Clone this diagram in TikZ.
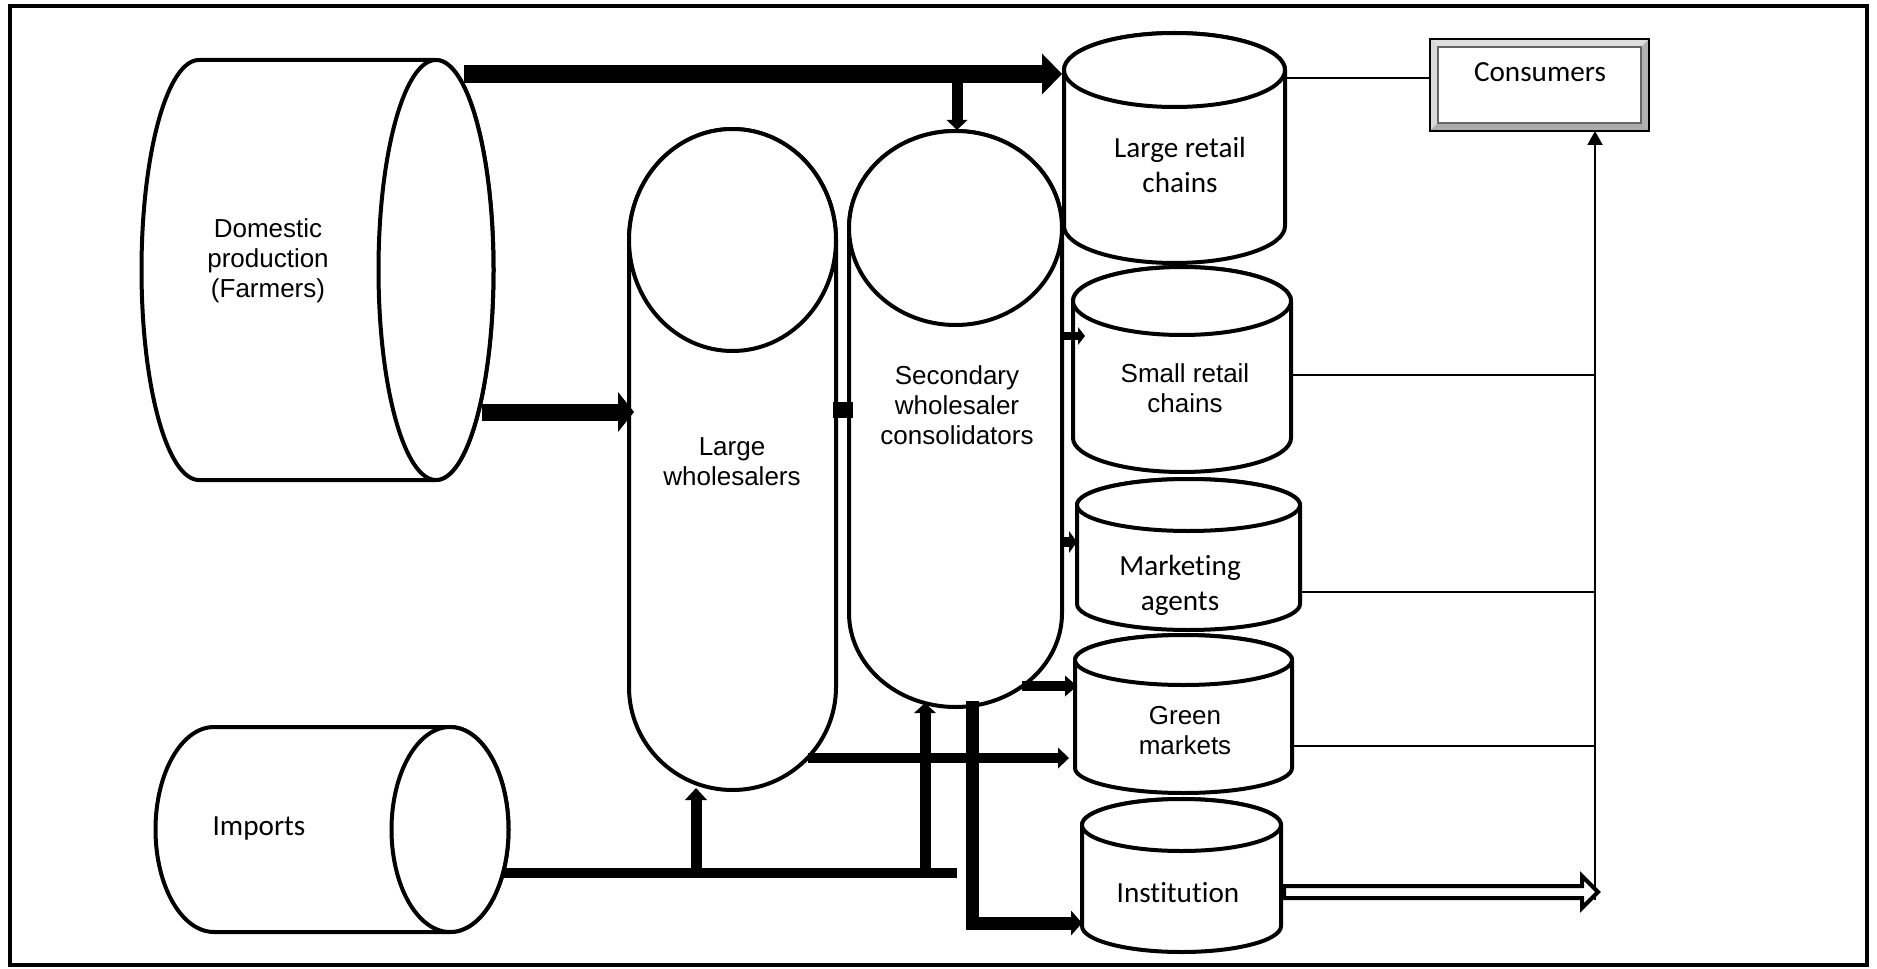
\documentclass[tikz,border=0pt]{standalone}
\usepackage{fontspec}
\setmainfont{Liberation Sans}
\newfontfamily\calfont[Ligatures=NoCommon]{Carlito}
\usetikzlibrary{arrows.meta}
\newcommand\hcylshape[5]{% left cap cx, right cx, cy, rx, ry
  \draw[shapeline] (#2,{#3-#5}) -- (#1,{#3-#5})
     arc[start angle=-90,end angle=-270,x radius=#4,y radius=#5]
     -- (#2,{#3+#5}) arc[start angle=90,end angle=-90,x radius=#4,y radius=#5] -- cycle;
  \draw[shapeline] (#2,#3) ellipse[x radius=#4,y radius=#5];}
\newcommand\vcylshape[5]{% cx, rx, top cy, bottom cy, ry
  \draw[shapeline] ({#1-#2},#3) -- ({#1-#2},#4)
     arc[start angle=180,end angle=0,x radius=#2,y radius=#5]
     -- ({#1+#2},#3) arc[start angle=0,end angle=-180,x radius=#2,y radius=#5] -- cycle;
  \draw[shapeline] (#1,#3) ellipse[x radius=#2,y radius=#5];}
\newcommand\capsshape[6]{% cx, rx, top cy, top ry, bottom cy, bottom ry
  \draw[shapeline] ({#1-#2},#3) -- ({#1-#2},#5)
     arc[start angle=180,end angle=0,x radius=#2,y radius=#6]
     -- ({#1+#2},#3) arc[start angle=0,end angle=-180,x radius=#2,y radius=#4] -- cycle;
  \draw[shapeline] (#1,#3) ellipse[x radius=#2,y radius=#4];}
\begin{document}
\begin{tikzpicture}[x=0.5pt,y=-0.5pt,
  shapeline/.style={line width=2pt,fill=white,line join=round},
  feed/.style={line width=1pt},
  arialtext/.style={font=\fontsize{13}{15}\selectfont,align=center,inner sep=0pt},
  calibtext/.style={font=\calfont\fontsize{14.6}{17.5}\selectfont,align=center,inner sep=0pt},
  flow/.style n args={3}{line width=#1,line cap=butt,line join=miter,
     -{Triangle[length=#3,width=#2,line width=0pt]}},
  bar/.style={line width=#1,line cap=butt,line join=miter},
]
\useasboundingbox (0,0) rectangle (1877,968);
\draw[line width=2pt] (10,6) rectangle (1867,965);

% ---- shapes ----
\hcylshape{199}{436}{270}{57.5}{210}
\hcylshape{214}{450}{829.5}{58.5}{102.5}
\capsshape{732.5}{103.5}{240}{111}{687}{103}
\capsshape{955.5}{106.5}{228}{97}{613}{94}
\vcylshape{1174.5}{110.5}{70}{226}{37}
\vcylshape{1182}{109}{301}{438}{34}
\vcylshape{1188.5}{111.5}{505}{604}{26}
\vcylshape{1183.5}{108.5}{660}{768}{25}
\vcylshape{1181.5}{99.5}{825}{926}{26}

% consumers box with bevel
\fill[gray!45] (1430,39) rectangle (1649,131);
\fill[gray!25] (1430,39) -- (1649,39) -- (1641,47) -- (1438,47) -- cycle;
\fill[gray!30] (1430,39) -- (1438,47) -- (1438,123) -- (1430,131) -- cycle;
\fill[gray!65] (1430,131) -- (1438,123) -- (1641,123) -- (1649,131) -- cycle;
\fill[gray!60] (1649,39) -- (1641,47) -- (1641,123) -- (1649,131) -- cycle;
\draw[line width=1pt] (1430,39) rectangle (1649,131);
\draw[line width=0.6pt,fill=white,draw=gray!80!black] (1438,47) rectangle (1641,123);

% ---- text nodes ----
\node[arialtext] (dom) at (268,261) {Domestic\\production\\(Farmers)};
\node[calibtext] (imp) at (259,828) {Imports};
\node[arialtext] (lw) at (732,462) {Large\\wholesalers};
\node[arialtext] (sw) at (957,405) {Secondary\\wholesaler\\consolidators};
\node[calibtext] (lrc) at (1180,165) {Large retail\\chains};
\node[arialtext] (src) at (1185,388) {Small retail\\chains};
\node[calibtext] (ma) at (1180,585) {Marketing\\agents};
\node[arialtext] (gm) at (1185,731) {Green\\markets};
\node[calibtext] (inst) at (1178,893) {Institution};
\node[calibtext] (cons) at (1540,72) {Consumers};

% ---- attachment points ----
\coordinate (dom-top) at (464,74);
\coordinate (lrc-in) at (1062,74);
\coordinate (split) at (957,74);
\coordinate (sw-top) at (957,130);
\coordinate (dom-mid) at (482,412);
\coordinate (lw-in) at (634,412);
\coordinate (lw-r) at (833,410);
\coordinate (sw-l) at (853,410);
\coordinate (sw-o1) at (1062,336);
\coordinate (src-in) at (1085,336);
\coordinate (sw-o2) at (1062,542);
\coordinate (ma-in) at (1077,542);
\coordinate (sw-o3) at (1022,686);
\coordinate (gm-in1) at (1077,686);
\coordinate (lw-o) at (808,758);
\coordinate (gm-in2) at (1069,758);
\coordinate (imp-o) at (502,873);
\coordinate (imp-end) at (957,873);
\coordinate (j1) at (696,878);
\coordinate (lw-bot) at (696,788);
\coordinate (j2) at (925,878);
\coordinate (sw-bot) at (925,703);
\coordinate (sw-o4) at (972,701);
\coordinate (bend) at (972,923);
\coordinate (inst-in) at (1082,923);
\coordinate (lrc-o) at (1284,78);
\coordinate (cons-l) at (1430,78);
\coordinate (src-o) at (1292,375);
\coordinate (ma-o) at (1300,592);
\coordinate (gm-o) at (1292,746);
\coordinate (c375) at (1595,375);
\coordinate (c592) at (1595,592);
\coordinate (c746) at (1595,746);
\coordinate (cbot) at (1595,900);
\coordinate (cons-b) at (1595,131);

% ---- thick flows ----
\draw[flow={9pt}{20.5pt}{10pt}] (dom-top) -- (lrc-in);
\draw[flow={5.5pt}{10.5pt}{5pt}] (split) -- (sw-top);
\draw[flow={8.5pt}{20pt}{8pt}] (dom-mid) -- (lw-in);
\draw[bar=8pt] (lw-r) -- (sw-l);
\draw[flow={4pt}{9pt}{3.5pt}] (sw-o1) -- (src-in);
\draw[flow={5pt}{11pt}{4pt}] (sw-o2) -- (ma-in);
\draw[flow={5pt}{10.5pt}{6pt}] (sw-o3) -- (gm-in1);
\draw[flow={5pt}{10.5pt}{5.5pt}] (lw-o) -- (gm-in2);
\draw[bar=5pt] (imp-o) -- (imp-end);
\draw[flow={5.5pt}{11pt}{6pt}] (j1) -- (lw-bot);
\draw[flow={5.5pt}{11pt}{5pt}] (j2) -- (sw-bot);
\draw[flow={6.5pt}{12.5pt}{5.5pt}] (sw-o4) -- (bend) -- (inst-in);

% ---- thin feeds to consumers ----
\draw[feed] (lrc-o) -- (cons-l);
\draw[feed] (src-o) -- (c375);
\draw[feed] (ma-o) -- (c592);
\draw[feed] (gm-o) -- (c746);
\draw[feed,-{Triangle[length=7pt,width=7.5pt]}] (cbot) -- (cons-b);

% hollow arrow from institution
\draw[line width=2pt,fill=white,line join=miter]
  (1284,886) -- (1582,886) -- (1582,876) -- (1598,892) -- (1582,908)
  -- (1582,898) -- (1284,898) -- cycle;
\end{tikzpicture}
\end{document}
